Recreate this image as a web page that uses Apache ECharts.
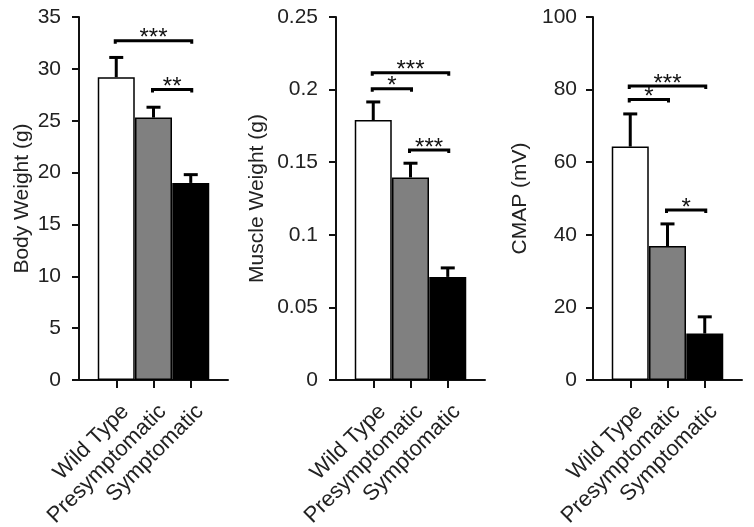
<!DOCTYPE html>
<html>
<head>
<meta charset="utf-8">
<script src="https://cdn.jsdelivr.net/npm/echarts@6/dist/echarts.min.js"></script>
<style>html,body{margin:0;padding:0;background:#fff}#c{width:754px;height:527px}</style>
</head>
<body>
<div id="c"></div>
<script>
// ---- data ----
const categories = ['Wild Type', 'Presymptomatic', 'Symptomatic'];
const barColors = ['#ffffff', '#808080', '#000000'];

const bodyWeight = [29.2, 25.3, 19.0];
const bodyWeightErr = [1.9, 1.0, 0.8];
const bodySig = [[0, 2, 32.7, '***'], [1, 2, 28.0, '**']];

const muscleWeight = [0.179, 0.1395, 0.071];
const muscleWeightErr = [0.0125, 0.0098, 0.0062];
const muscleSig = [[0, 2, 0.2116, '***'], [0, 1, 0.2006, '*'], [1, 2, 0.1584, '***']];

const cmap = [64.3, 36.9, 12.8];
const cmapErr = [9.0, 6.1, 4.6];
const cmapSig = [[0, 2, 81.0, '***'], [0, 1, 77.3, '*'], [1, 2, 46.8, '*']];

const yTitles = ['Body Weight (g)', 'Muscle Weight (g)', 'CMAP (mV)'];
const yMax = [35, 0.25, 100];
const yStep = [5, 0.05, 20];

// ---- build ----
const FONT = '"Liberation Sans", Arial, sans-serif';
const TXT = '#222';
const axisCats = [''].concat(categories, ['']);
const panels = [
  {vals: bodyWeight, err: bodyWeightErr, sig: bodySig, left: 79, nameGap: 46, margin: 18},
  {vals: muscleWeight, err: muscleWeightErr, sig: muscleSig, left: 336, nameGap: 68, margin: 18},
  {vals: cmap, err: cmapErr, sig: cmapSig, left: 593, nameGap: 62, margin: 16}
];

const grid = [], xAxis = [], yAxis = [], series = [];
panels.forEach((p, i) => {
  grid.push({left: p.left, width: 149, top: 17, height: 363, containLabel: false, outerBoundsMode: 'none'});
  xAxis.push({
    type: 'category', gridIndex: i, data: axisCats, boundaryGap: false,
    axisLine: {lineStyle: {color: '#111', width: 2}},
    axisTick: {length: 8, lineStyle: {color: '#111', width: 2},
      interval: (idx) => idx >= 1 && idx <= categories.length},
    axisLabel: {interval: 0, rotate: 45, margin: 19, fontSize: 22, fontFamily: FONT, color: TXT,
      verticalAlign: 'middle', lineHeight: 26, formatter: (v) => v ? '\n' + v : ''},
    splitLine: {show: false}
  });
  yAxis.push({
    type: 'value', gridIndex: i, min: 0, max: yMax[i], interval: yStep[i],
    name: yTitles[i], nameLocation: 'middle', nameRotate: 90, nameGap: p.nameGap,
    nameTextStyle: {fontSize: 21, fontFamily: FONT, color: TXT},
    axisLine: {show: true, lineStyle: {color: '#111', width: 2}},
    axisTick: {show: true, length: 7, lineStyle: {color: '#111', width: 2}},
    axisLabel: {fontSize: 21, fontFamily: FONT, color: TXT, margin: p.margin},
    splitLine: {show: false}
  });
  const barData = ['-'].concat(p.vals.map((v, k) => ({
    value: v, itemStyle: {color: barColors[k], borderColor: '#000', borderWidth: 1.5}
  })), ['-']);
  series.push({
    type: 'bar', xAxisIndex: i, yAxisIndex: i, data: barData, barWidth: 37, z: 2,
    emphasis: {disabled: true}, animation: false
  });
  series.push({
    type: 'custom', xAxisIndex: i, yAxisIndex: i, z: 3, animation: false, clip: false,
    data: p.vals.map((v, k) => [k + 1, v, v + p.err[k]]),
    renderItem: (params, api) => {
      const b = api.coord([api.value(0), api.value(1)]);
      const t = api.coord([api.value(0), api.value(2)]);
      return {type: 'group', children: [
        {type: 'line', shape: {x1: b[0], y1: b[1], x2: t[0], y2: t[1]}, style: {stroke: '#000', lineWidth: 3}},
        {type: 'line', shape: {x1: t[0] - 7, y1: t[1], x2: t[0] + 7, y2: t[1]}, style: {stroke: '#000', lineWidth: 3}}
      ]};
    }
  });
  series.push({
    type: 'custom', xAxisIndex: i, yAxisIndex: i, z: 4, animation: false, clip: false,
    data: p.sig.map(s => [s[0] + 1, s[1] + 1, s[2], s[3]]),
    renderItem: (params, api) => {
      const a = api.coord([api.value(0), api.value(2)]);
      const b = api.coord([api.value(1), api.value(2)]);
      const label = p.sig[params.dataIndex][3];
      return {type: 'group', children: [
        {type: 'polyline', shape: {points: [[a[0] - 1, a[1] + 3], [a[0] - 1, a[1]], [b[0] + 1, b[1]], [b[0] + 1, b[1] + 3]]},
          style: {stroke: '#000', lineWidth: 3, fill: null}},
        {type: 'text', style: {text: label, x: (a[0] + b[0]) / 2, y: a[1] - 2, align: 'center', verticalAlign: 'middle',
          fontSize: 24, fontFamily: FONT, fill: '#111'}}
      ]};
    }
  });
});

const chart = echarts.init(document.getElementById('c'), null, {renderer: 'canvas'});
chart.setOption({animation: false, grid, xAxis, yAxis, series});
</script>
</body>
</html>
